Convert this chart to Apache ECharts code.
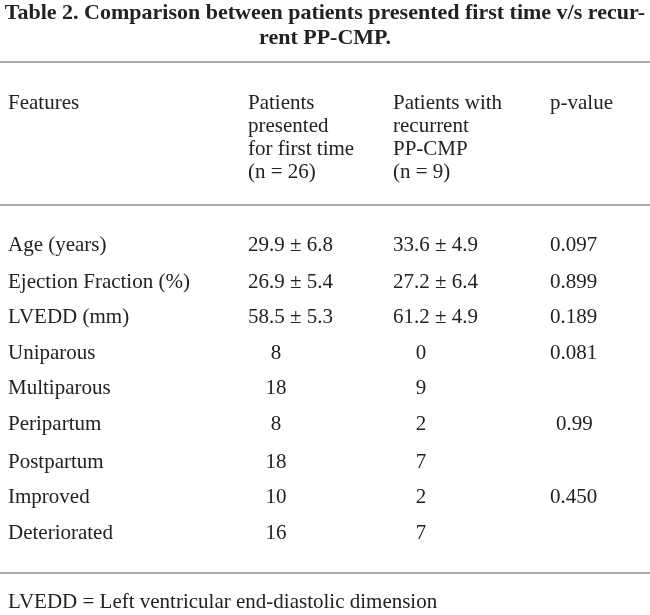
<!DOCTYPE html>
<html>
<head>
<meta charset="utf-8">
<script src="https://cdn.jsdelivr.net/npm/echarts@6/dist/echarts.min.js"></script>
<style>html,body{margin:0;padding:0;background:#fff}#main{width:650px;height:615px}</style>
</head>
<body>
<div id="main"></div>
<script>
var titleLines = ['Table 2. Comparison between patients presented first time v/s recur-', 'rent PP-CMP.'];
var headers = [
  ['Features'],
  ['Patients', 'presented', 'for first time', '(n = 26)'],
  ['Patients with', 'recurrent', 'PP-CMP', '(n = 9)'],
  ['p-value']
];
var features = ['Age (years)', 'Ejection Fraction (%)', 'LVEDD (mm)', 'Uniparous', 'Multiparous',
  'Peripartum', 'Postpartum', 'Improved', 'Deteriorated'];
var firstTime = ['29.9 ± 6.8', '26.9 ± 5.4', '58.5 ± 5.3', '8', '18', '8', '18', '10', '16'];
var recurrent = ['33.6 ± 4.9', '27.2 ± 6.4', '61.2 ± 4.9', '0', '9', '2', '7', '2', '7'];
var pValues = ['0.097', '0.899', '0.189', '0.081', '', '0.99', '', '0.450', ''];
var footnote = 'LVEDD = Left ventricular end-diastolic dimension';

var font = '"Liberation Serif", "DejaVu Serif", serif';
var rowY = [245, 282, 317, 353, 388, 424, 462, 497, 533];
var colX = [8, 248, 393, 550];
var els = [];
function txt(s, x, y, opt) {
  opt = opt || {};
  els.push({type: 'text', x: x, y: y, style: {text: s, fill: '#222',
    font: (opt.bold ? 'bold ' : '') + (opt.size || 21) + 'px ' + font,
    align: opt.align || 'left', verticalAlign: 'middle'}});
}
function rule(y) {
  els.push({type: 'line', shape: {x1: 0, y1: y, x2: 650, y2: y}, style: {stroke: '#555', lineWidth: 1}});
}
txt(titleLines[0], 325, 13, {bold: true, align: 'center', size: 22});
txt(titleLines[1], 325, 38, {bold: true, align: 'center', size: 22});
rule(62);
headers.forEach(function (h, c) {
  h.forEach(function (s, i) { txt(s, colX[c], 103 + i * 23); });
});
rule(205);
features.forEach(function (f, i) {
  txt(f, colX[0], rowY[i]);
  var centered = i >= 3;
  txt(firstTime[i], centered ? 276 : colX[1], rowY[i], {align: centered ? 'center' : 'left'});
  txt(recurrent[i], centered ? 421 : colX[2], rowY[i], {align: centered ? 'center' : 'left'});
  if (pValues[i]) txt(pValues[i], pValues[i] === '0.99' ? 556 : colX[3], rowY[i]);
});
rule(573);
txt(footnote, colX[0], 602);

var chart = echarts.init(document.getElementById('main'));
chart.setOption({backgroundColor: '#fff', graphic: {elements: els}});
</script>
</body>
</html>
